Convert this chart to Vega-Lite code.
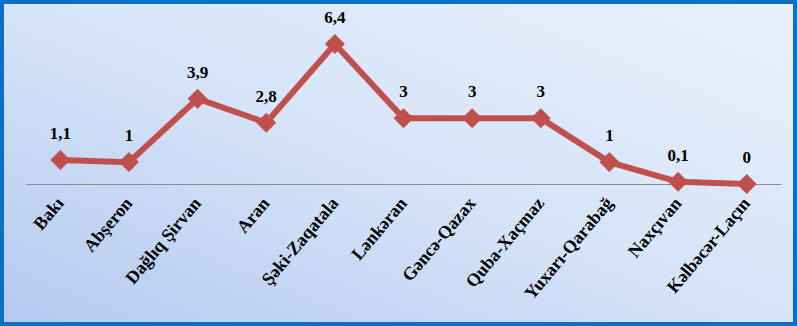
{
  "$schema": "https://vega.github.io/schema/vega-lite/v6.json",
  "width": 797,
  "height": 326,
  "autosize": "none",
  "padding": 0,
  "background": "#D0DFF6",
  "view": {
    "fill": {"gradient": "linear", "x1": 0, "y1": 1, "x2": 1, "y2": 0, "stops": [{"offset": 0, "color": "#B2C9EF"}, {"offset": 0.5, "color": "#D6E4F8"}, {"offset": 1, "color": "#E9F1FC"}]},
    "stroke": "#0B6FC6",
    "strokeWidth": 8
  },
  "config": {
    "locale": {"number": {"decimal": ",", "thousands": " ", "grouping": [3], "currency": ["", ""]}},
    "font": "Liberation Serif"
  },
  "data": {
    "values": [
      {"region": "Bakı", "value": 1.1},
      {"region": "Abşeron", "value": 1},
      {"region": "Dağlıq Şirvan", "value": 3.9},
      {"region": "Aran", "value": 2.8},
      {"region": "Şəki-Zaqatala", "value": 6.4},
      {"region": "Lənkəran", "value": 3},
      {"region": "Gəncə-Qazax", "value": 3},
      {"region": "Quba-Xaçmaz", "value": 3},
      {"region": "Yuxarı-Qarabağ", "value": 1},
      {"region": "Naxçıvan", "value": 0.1},
      {"region": "Kəlbəcər-Laçın", "value": 0}
    ]
  },
  "encoding": {
    "x": {
      "field": "region", "type": "nominal", "sort": null,
      "scale": {"type": "point", "range": [26, 781], "padding": 0.5},
      "axis": {
        "title": null, "orient": "bottom", "offset": -142,
        "labelAngle": -50, "labelAlign": "right", "labelBaseline": "middle",
        "labelFont": "Liberation Serif", "labelFontWeight": "bold", "labelFontSize": 18,
        "labelColor": "#000000", "labelPadding": 16, "labelOverlap": false,
        "ticks": false, "domainColor": "#8C8C8C", "domainWidth": 1, "grid": false
      }
    },
    "y": {
      "field": "value", "type": "quantitative",
      "scale": {"domain": [-6.49, 8.41], "nice": false, "zero": false},
      "axis": null
    }
  },
  "layer": [
    {"mark": {"type": "line", "color": "#C0504D", "strokeWidth": 6, "clip": false}},
    {"mark": {"type": "point", "shape": "diamond", "filled": true, "color": "#C0504D", "size": 400, "opacity": 1}},
    {"mark": {"type": "text", "font": "Liberation Serif", "fontWeight": "bold", "fontSize": 17, "color": "#000000", "dy": -26, "baseline": "middle"},
     "encoding": {"text": {"field": "value", "type": "quantitative", "format": "~g"}}}
  ]
}
